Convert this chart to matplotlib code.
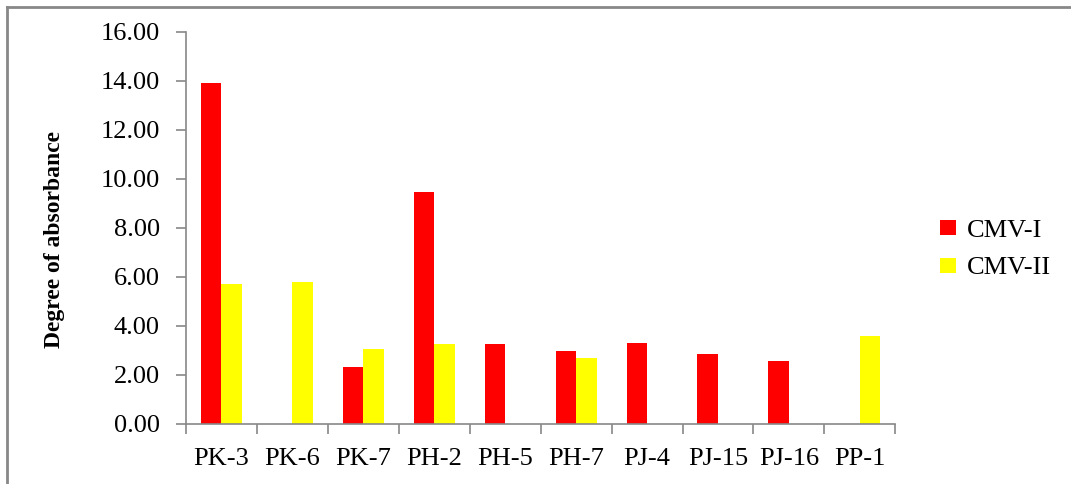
import numpy as np
import matplotlib.pyplot as plt
from matplotlib.lines import Line2D

# Muestras y absorbancia por cepa
samples = ['PK-3', 'PK-6', 'PK-7', 'PH-2', 'PH-5', 'PH-7', 'PJ-4', 'PJ-15', 'PJ-16', 'PP-1']
cmv_1 = [13.93, 0, 2.33, 9.45, 3.28, 2.98, 3.32, 2.86, 2.56, 0]
cmv_2 = [5.71, 5.79, 3.04, 3.28, 0, 2.68, 0, 0, 0, 3.61]
yticks = [0, 2, 4, 6, 8, 10, 12, 14, 16]

plt.rcParams['font.family'] = ['Liberation Serif', 'DejaVu Serif']

fig = plt.figure(figsize=(10.71, 4.84), dpi=100)
ax = fig.add_axes([0.1737, 0.124, 0.6623, 0.810])

x = np.arange(len(samples))
w = 0.29
ax.bar(x - w / 2, cmv_1, width=w, color='#ff0000', label='CMV-I')
ax.bar(x + w / 2, cmv_2, width=w, color='#ffff00', label='CMV-II')

ax.set_xlim(-0.5, len(samples) - 0.5)
ax.set_ylim(0, 16)
ax.set_yticks(yticks)
ax.set_yticklabels(['%.2f' % v for v in yticks], fontsize=19)

# Marcas del eje x entre categorias
ax.set_xticks(np.arange(len(samples) + 1) - 0.5)
ax.set_xticklabels([])
ax.set_xticks(x, minor=True)
ax.set_xticklabels(samples, minor=True, fontsize=19)
ax.tick_params(axis='x', which='major', length=7, color='#888888', width=1.2)
ax.tick_params(axis='x', which='minor', length=0, pad=17)
ax.tick_params(axis='y', length=7, color='#888888', width=1.2, pad=12)

for s in ['top', 'right']:
    ax.spines[s].set_visible(False)
for s in ['left', 'bottom']:
    ax.spines[s].set_color('#888888')
    ax.spines[s].set_linewidth(1.2)

ax.set_ylabel('Degree of absorbance', fontsize=17, fontweight='bold')
ax.yaxis.set_label_coords(-0.17, 0.47)

ax.legend(loc='center left', bbox_to_anchor=(1.03, 0.445), frameon=False,
          fontsize=19, handlelength=0.6, handleheight=0.5, handletextpad=0.4,
          labelspacing=0.6)

# Marco gris de la figura (solo arriba e izquierda)
fig.add_artist(Line2D([0.0065, 1.0], [0.985, 0.985], transform=fig.transFigure,
                      color='#888888', lw=2))
fig.add_artist(Line2D([0.0065, 0.0065], [0.0, 0.985], transform=fig.transFigure,
                      color='#888888', lw=2))

fig.savefig('out.png', dpi=100)
